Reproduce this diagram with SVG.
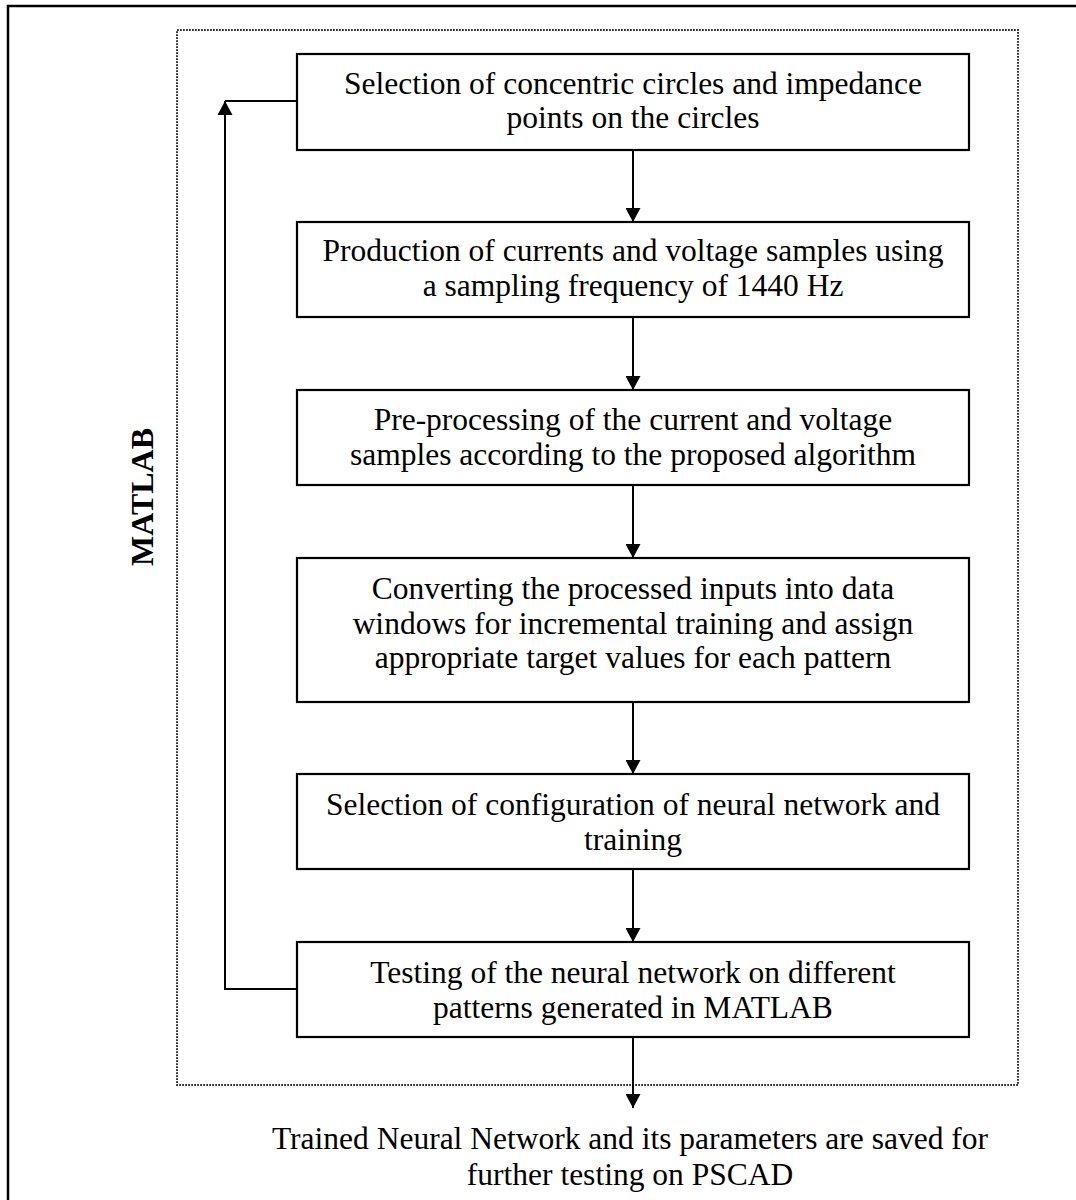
<svg xmlns="http://www.w3.org/2000/svg" width="1076" height="1200" viewBox="0 0 1076 1200">
  <style>
    .frame { fill: none; stroke: #000; stroke-width: 2.5; }
    .group { fill: none; stroke: #333; stroke-width: 2; stroke-dasharray: 1.8 1.2; }
    .box { fill: #fff; stroke: #000; stroke-width: 2.2; }
    .label { font-family: "Liberation Serif", "Times New Roman", serif; font-size: 31.5px; fill: #000; text-anchor: middle; }
    .side { font-family: "Liberation Serif", "Times New Roman", serif; font-size: 32px; font-weight: bold; fill: #000; text-anchor: middle; }
    .wire { fill: none; stroke: #000; stroke-width: 2; }
  </style>
  <defs>
    <marker id="arrow" viewBox="0 0 14 15" refX="14" refY="7.5" markerWidth="14" markerHeight="15" markerUnits="userSpaceOnUse" orient="auto">
      <path d="M0,0 L14,7.5 L0,15 Z" fill="#000"/>
    </marker>
  </defs>

  <rect width="1076" height="1200" fill="#fff"/>

  <!-- outer frame -->
  <rect class="frame" x="8" y="6" width="1100" height="1250"/>

  <!-- MATLAB group -->
  <g id="matlab-group">
    <rect class="group" x="177" y="30" width="841" height="1055"/>
    <text class="side" transform="translate(153,497) rotate(-90)">MATLAB</text>
  </g>

  <g id="connectors">
    <line class="wire" x1="633" y1="150" x2="633" y2="222" marker-end="url(#arrow)"/>
    <line class="wire" x1="633" y1="317" x2="633" y2="390" marker-end="url(#arrow)"/>
    <line class="wire" x1="633" y1="485" x2="633" y2="558" marker-end="url(#arrow)"/>
    <line class="wire" x1="633" y1="702" x2="633" y2="774" marker-end="url(#arrow)"/>
    <line class="wire" x1="633" y1="869" x2="633" y2="942" marker-end="url(#arrow)"/>
    <line class="wire" x1="633" y1="1037" x2="633" y2="1108" marker-end="url(#arrow)"/>
    <!-- feedback loop from testing back to selection -->
    <polyline class="wire" points="297,989 225,989 225,101"/>
    <line class="wire" x1="225" y1="117" x2="225" y2="101" marker-end="url(#arrow)"/>
    <line class="wire" x1="225" y1="101" x2="297" y2="101"/>
  </g>

  <g id="step1">
    <rect class="box" x="297" y="54" width="672" height="96"/>
    <text class="label" x="633" y="94">Selection of concentric circles and impedance</text>
    <text class="label" x="633" y="128">points on the circles</text>
  </g>

  <g id="step2">
    <rect class="box" x="297" y="222" width="672" height="95"/>
    <text class="label" x="633" y="261">Production of currents and voltage samples using</text>
    <text class="label" x="633" y="296">a sampling frequency of 1440 Hz</text>
  </g>

  <g id="step3">
    <rect class="box" x="297" y="390" width="672" height="95"/>
    <text class="label" x="633" y="430">Pre-processing of the current and voltage</text>
    <text class="label" x="633" y="465">samples according to the proposed algorithm</text>
  </g>

  <g id="step4">
    <rect class="box" x="297" y="558" width="672" height="144"/>
    <text class="label" x="633" y="599">Converting the processed inputs into data</text>
    <text class="label" x="633" y="634">windows for incremental training and assign</text>
    <text class="label" x="633" y="668">appropriate target values for each pattern</text>
  </g>

  <g id="step5">
    <rect class="box" x="297" y="774" width="672" height="95"/>
    <text class="label" x="633" y="815">Selection of configuration of neural network and</text>
    <text class="label" x="633" y="850">training</text>
  </g>

  <g id="step6">
    <rect class="box" x="297" y="942" width="672" height="95"/>
    <text class="label" x="633" y="983">Testing of the neural network on different</text>
    <text class="label" x="633" y="1018">patterns generated in MATLAB</text>
  </g>

  <g id="result">
    <text class="label" x="630" y="1149">Trained Neural Network and its parameters are saved for</text>
    <text class="label" x="630" y="1185">further testing on PSCAD</text>
  </g>
</svg>
